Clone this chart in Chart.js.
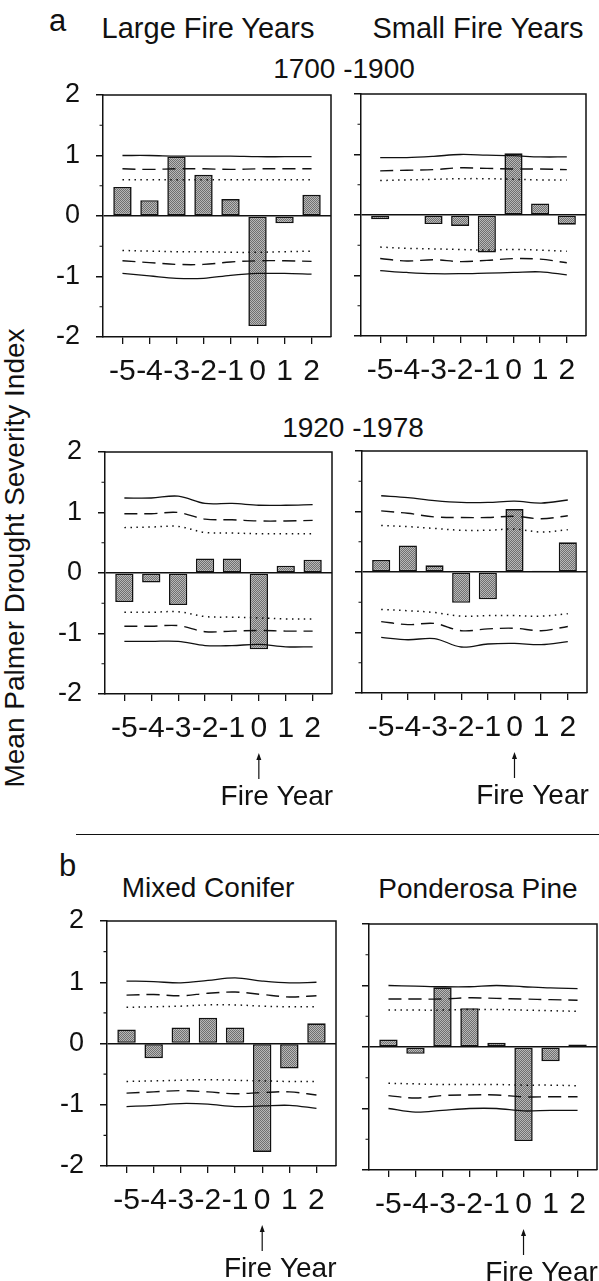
<!DOCTYPE html>
<html>
<head>
<meta charset="utf-8">
<script src="https://cdn.jsdelivr.net/npm/chart.js@4.4.1/dist/chart.umd.min.js"></script>
<style>
  html, body { margin: 0; padding: 0; background: #fff; }
  body { position: relative; width: 599px; height: 1281px; overflow: hidden;
         font-family: 'Liberation Sans', Arial, sans-serif; color: #111; }
  canvas { position: absolute; }
  .txt { position: absolute; font-size: 28px; line-height: 28px; white-space: nowrap; }
  .wide { font-size: 29px; line-height: 29px; }
  .ctr { transform: translateX(-50%); }
  .big { font-size: 31px; line-height: 31px; }
  .ylab { position: absolute; left: 15px; top: 558px; font-size: 28px; line-height: 28px;
          white-space: nowrap; transform: translate(-50%, -50%) rotate(-90deg); }
  .rule { position: absolute; left: 76px; top: 834px; width: 523px; height: 0;
          border-top: 1.5px solid #111; }
</style>
</head>
<body>
<div class="txt big" style="left:49px; top:5px;">a</div>
<div class="txt wide ctr" style="left:208px; top:14px;">Large Fire Years</div>
<div class="txt wide ctr" style="left:478px; top:14px;">Small Fire Years</div>
<div class="txt ctr" style="left:344px; top:55px;">1700 -1900</div>
<div class="txt ctr" style="left:353px; top:414px;">1920 -1978</div>
<div class="rule"></div>
<div class="txt big" style="left:59px; top:850px;">b</div>
<div class="txt ctr" style="left:208px; top:874px;">Mixed Conifer</div>
<div class="txt ctr" style="left:478px; top:875px;">Ponderosa Pine</div>
<div class="ylab">Mean Palmer Drought Severity Index</div>

<script>
// years relative to the fire year
const years = [-5, -4, -3, -2, -1, 0, 1, 2];
const xTickLabels = ['-5', '-4', '-3', '-2', '-1', '0', '1', '2'];
const yTickValues = [-2, -1, 0, 1, 2];
const yTickLabels = ['-2', '-1', '0', '1', '2'];
const yMinorTicks = [-1.5, -0.5, 0.5, 1.5];

// a: 1700-1900, large fire years
const a1Bars    = [0.48, 0.26, 0.98, 0.68, 0.28, -1.82, -0.12, 0.35];
const a1SolidHi = [1.00, 1.00, 0.99, 0.99, 0.99, 0.98, 0.98, 0.98];
const a1DashHi  = [0.78, 0.77, 0.78, 0.78, 0.77, 0.78, 0.78, 0.78];
const a1DotHi   = [0.60, 0.60, 0.60, 0.60, 0.60, 0.60, 0.60, 0.60];
const a1DotLo   = [-0.57, -0.58, -0.59, -0.59, -0.60, -0.60, -0.59, -0.58];
const a1DashLo  = [-0.74, -0.77, -0.80, -0.80, -0.76, -0.74, -0.74, -0.75];
const a1SolidLo = [-0.95, -0.99, -1.03, -1.03, -0.98, -0.95, -0.95, -0.96];

// a: 1700-1900, small fire years
const a2Bars    = [-0.07, 0.00, -0.15, -0.18, -0.62, 1.02, 0.19, -0.16];
const a2SolidHi = [0.95, 0.95, 0.97, 1.00, 0.99, 0.98, 0.96, 0.96];
const a2DashHi  = [0.73, 0.74, 0.75, 0.78, 0.77, 0.76, 0.76, 0.75];
const a2DotHi   = [0.57, 0.58, 0.59, 0.60, 0.60, 0.59, 0.58, 0.58];
const a2DotLo   = [-0.53, -0.55, -0.56, -0.57, -0.58, -0.57, -0.58, -0.60];
const a2DashLo  = [-0.72, -0.76, -0.74, -0.77, -0.75, -0.72, -0.73, -0.79];
const a2SolidLo = [-0.92, -0.95, -0.97, -0.97, -0.96, -0.95, -0.94, -0.99];

// a: 1920-1978, large fire years
const b1Bars    = [-0.48, -0.155, -0.53, 0.24, 0.24, -1.26, 0.12, 0.22];
const b1SolidHi = [1.24, 1.24, 1.27, 1.15, 1.15, 1.12, 1.12, 1.13];
const b1DashHi  = [0.98, 0.98, 1.00, 0.89, 0.88, 0.86, 0.86, 0.87];
const b1DotHi   = [0.75, 0.76, 0.77, 0.67, 0.66, 0.65, 0.65, 0.65];
const b1DotLo   = [-0.65, -0.65, -0.64, -0.72, -0.73, -0.74, -0.76, -0.76];
const b1DashLo  = [-0.88, -0.88, -0.87, -0.97, -0.96, -0.95, -0.96, -0.96];
const b1SolidLo = [-1.13, -1.13, -1.13, -1.20, -1.20, -1.18, -1.22, -1.22];

// a: 1920-1978, small fire years
const b2Bars    = [0.20, 0.44, 0.11, -0.51, -0.45, 1.04, 0.02, 0.49];
const b2SolidHi = [1.26, 1.23, 1.18, 1.15, 1.15, 1.17, 1.14, 1.19];
const b2DashHi  = [1.01, 0.97, 0.91, 0.90, 0.90, 0.92, 0.88, 0.93];
const b2DotHi   = [0.77, 0.75, 0.72, 0.69, 0.69, 0.71, 0.66, 0.70];
const b2DotLo   = [-0.62, -0.64, -0.67, -0.73, -0.72, -0.72, -0.73, -0.69];
const b2DashLo  = [-0.82, -0.87, -0.85, -0.97, -0.94, -0.93, -0.97, -0.90];
const b2SolidLo = [-1.08, -1.12, -1.10, -1.24, -1.19, -1.18, -1.20, -1.15];

// b: mixed conifer
const c1Bars    = [0.23, -0.24, 0.26, 0.42, 0.26, -1.77, -0.41, 0.33];
const c1SolidHi = [1.02, 1.01, 0.99, 1.03, 1.07, 1.02, 0.99, 1.00];
const c1DashHi  = [0.79, 0.80, 0.78, 0.82, 0.84, 0.80, 0.76, 0.78];
const c1DotHi   = [0.59, 0.60, 0.61, 0.63, 0.63, 0.61, 0.60, 0.60];
const c1DotLo   = [-0.62, -0.61, -0.60, -0.59, -0.60, -0.61, -0.62, -0.62];
const c1DashLo  = [-0.81, -0.79, -0.77, -0.79, -0.82, -0.80, -0.79, -0.84];
const c1SolidLo = [-1.03, -1.01, -0.98, -0.99, -1.03, -1.02, -1.01, -1.06];

// b: ponderosa pine
const c2Bars    = [0.12, -0.11, 0.97, 0.63, 0.07, -1.53, -0.23, 0.04];
const c2SolidHi = [1.00, 0.99, 0.98, 0.98, 1.00, 0.98, 0.96, 0.95];
const c2DashHi  = [0.78, 0.78, 0.78, 0.80, 0.79, 0.78, 0.77, 0.76];
const c2DotHi   = [0.60, 0.60, 0.60, 0.61, 0.61, 0.60, 0.59, 0.58];
const c2DotLo   = [-0.59, -0.60, -0.61, -0.61, -0.61, -0.62, -0.62, -0.63];
const c2DashLo  = [-0.79, -0.83, -0.79, -0.78, -0.78, -0.81, -0.81, -0.81];
const c2SolidLo = [-1.00, -1.06, -1.03, -1.00, -1.00, -1.04, -1.03, -1.03];

const FONT = "'Liberation Sans', Arial, sans-serif";
const INK = '#111';
const Y_AXIS_W = 100;
const PAD_T = 18;
const PAD_R = 3;

// plot-area rectangles (pixels) for each panel
const panels = [
  { L: 103, R: 331, T: 95,  B: 337,  bottomH: 70,  showY: true,  fire: false,
    bars: a1Bars, lines: [a1SolidHi, a1DashHi, a1DotHi, a1DotLo, a1DashLo, a1SolidLo] },
  { L: 361, R: 586, T: 94,  B: 336,  bottomH: 70,  showY: false, fire: false,
    bars: a2Bars, lines: [a2SolidHi, a2DashHi, a2DotHi, a2DotLo, a2DashLo, a2SolidLo] },
  { L: 105, R: 332, T: 452, B: 694,  bottomH: 125, showY: true,  fire: true,
    bars: b1Bars, lines: [b1SolidHi, b1DashHi, b1DotHi, b1DotLo, b1DashLo, b1SolidLo] },
  { L: 362, R: 587, T: 451, B: 693,  bottomH: 125, showY: false, fire: true,
    bars: b2Bars, lines: [b2SolidHi, b2DashHi, b2DotHi, b2DotLo, b2DashLo, b2SolidLo] },
  { L: 107, R: 336, T: 921, B: 1166, bottomH: 118, showY: true,  fire: true,
    bars: c1Bars, lines: [c1SolidHi, c1DashHi, c1DotHi, c1DotLo, c1DashLo, c1SolidLo] },
  { L: 369, R: 597, T: 924, B: 1170, bottomH: 114, showY: false, fire: true,
    bars: c2Bars, lines: [c2SolidHi, c2DashHi, c2DotHi, c2DotLo, c2DashLo, c2SolidLo] }
];

const LINE_STYLES = [
  { dash: [],         width: 1.3 },
  { dash: [13, 7],    width: 1.4 },
  { dash: [1.5, 4.5], width: 1.5 },
  { dash: [1.5, 4.5], width: 1.5 },
  { dash: [13, 7],    width: 1.4 },
  { dash: [],         width: 1.3 }
];

function stipple() {
  const c = document.createElement('canvas');
  c.width = 2; c.height = 2;
  const g = c.getContext('2d');
  g.fillStyle = '#b8b8b8';
  g.fillRect(0, 0, 2, 2);
  g.fillStyle = '#707070';
  g.fillRect(0, 0, 1, 1);
  g.fillRect(1, 1, 1, 1);
  return g.createPattern(c, 'repeat');
}

// top and right edges of the box, plus short minor ticks on the y axis
const framePlugin = {
  id: 'frame',
  afterDraw(chart) {
    const { ctx, chartArea: a } = chart;
    const y = chart.scales.y;
    ctx.save();
    ctx.strokeStyle = INK;
    ctx.lineWidth = 1.5;
    ctx.beginPath();
    ctx.moveTo(a.left, a.top);
    ctx.lineTo(a.right, a.top);
    ctx.lineTo(a.right, a.bottom);
    ctx.stroke();
    ctx.lineWidth = 1.2;
    ctx.beginPath();
    yMinorTicks.forEach(v => {
      const py = y.getPixelForValue(v);
      ctx.moveTo(a.left - 3.5, py);
      ctx.lineTo(a.left, py);
    });
    ctx.stroke();
    ctx.restore();
  }
};

// "Fire Year" arrow under the 0 tick
const fireYearPlugin = {
  id: 'fireYear',
  afterDraw(chart, args, opts) {
    if (!opts.show) return;
    const { ctx, chartArea: a } = chart;
    const x = chart.scales.x.getPixelForValue(0);
    const y0 = a.bottom + 59, y1 = a.bottom + 85;
    ctx.save();
    ctx.strokeStyle = INK;
    ctx.fillStyle = INK;
    ctx.lineWidth = 1.2;
    ctx.beginPath();
    ctx.moveTo(x, y0 + 5);
    ctx.lineTo(x, y1);
    ctx.stroke();
    ctx.beginPath();
    ctx.moveTo(x, y0);
    ctx.lineTo(x - 2.5, y0 + 7);
    ctx.lineTo(x + 2.5, y0 + 7);
    ctx.closePath();
    ctx.fill();
    ctx.font = '28px ' + FONT;
    ctx.textAlign = 'center';
    ctx.textBaseline = 'alphabetic';
    ctx.fillText('Fire Year', x + 18, a.bottom + 111);
    ctx.restore();
  }
};

function buildPanel(p, fill) {
  const w = Y_AXIS_W + (p.R - p.L) + PAD_R;
  const h = PAD_T + (p.B - p.T) + p.bottomH;
  const cv = document.createElement('canvas');
  cv.width = w;
  cv.height = h;
  cv.style.left = (p.L - Y_AXIS_W) + 'px';
  cv.style.top = (p.T - PAD_T) + 'px';
  cv.style.width = w + 'px';
  cv.style.height = h + 'px';
  document.body.appendChild(cv);

  const pts = arr => years.map((x, i) => ({ x, y: arr[i] }));
  const lineSets = p.lines.map((arr, i) => ({
    type: 'line',
    data: pts(arr),
    borderColor: INK,
    borderWidth: LINE_STYLES[i].width,
    borderDash: LINE_STYLES[i].dash,
    pointRadius: 0,
    tension: 0.35,
    fill: false,
    order: 0
  }));

  new Chart(cv, {
    data: {
      datasets: [
        ...lineSets,
        {
          type: 'bar',
          data: pts(p.bars),
          backgroundColor: fill,
          borderColor: INK,
          borderWidth: 1.6,
          borderSkipped: false,
          barPercentage: 0.85,
          categoryPercentage: 0.8,
          order: 1
        }
      ]
    },
    options: {
      responsive: false,
      animation: false,
      devicePixelRatio: 1,
      layout: { padding: { top: PAD_T, right: PAD_R, left: 0, bottom: 0 } },
      plugins: {
        legend: { display: false },
        tooltip: { enabled: false },
        fireYear: { show: p.fire }
      },
      scales: {
        x: {
          type: 'linear',
          offset: false,
          min: -5.72,
          max: 2.72,
          afterFit: s => { s.height = p.bottomH; s.paddingLeft = 0; s.paddingRight = 0; },
          ticks: {
            stepSize: 1,
            includeBounds: false,
            autoSkip: false,
            maxRotation: 0,
            padding: 10,
            color: INK,
            font: { family: FONT, size: 30 },
            callback: v => {
              const i = years.indexOf(v);
              return i >= 0 ? xTickLabels[i] : '';
            }
          },
          grid: { offset: false, drawOnChartArea: false, tickLength: 7, tickColor: INK, lineWidth: 1.3 },
          border: { color: INK, width: 1.5 }
        },
        y: {
          min: -2,
          max: 2,
          // fixed axis width; drop the label overhang so the plot box lands where it should
          afterFit: s => { s.width = Y_AXIS_W; s.paddingTop = 0; s.paddingBottom = 0; },
          ticks: {
            stepSize: 0.5,
            padding: 16,
            color: INK,
            font: { family: FONT, size: 27 },
            callback: v => {
              if (!p.showY) return '';
              const i = yTickValues.indexOf(v);
              return i >= 0 ? yTickLabels[i] : '';
            }
          },
          grid: {
            drawOnChartArea: true,
            tickLength: 7,
            lineWidth: 1.5,
            color: c => (c.tick && c.tick.value === 0 ? INK : 'rgba(0,0,0,0)'),
            tickColor: c => (c.tick && Number.isInteger(c.tick.value) ? INK : 'rgba(0,0,0,0)')
          },
          border: { color: INK, width: 1.5 }
        }
      }
    },
    plugins: [framePlugin, fireYearPlugin]
  });
}

const fill = stipple();
panels.forEach(p => buildPanel(p, fill));
</script>
</body>
</html>
